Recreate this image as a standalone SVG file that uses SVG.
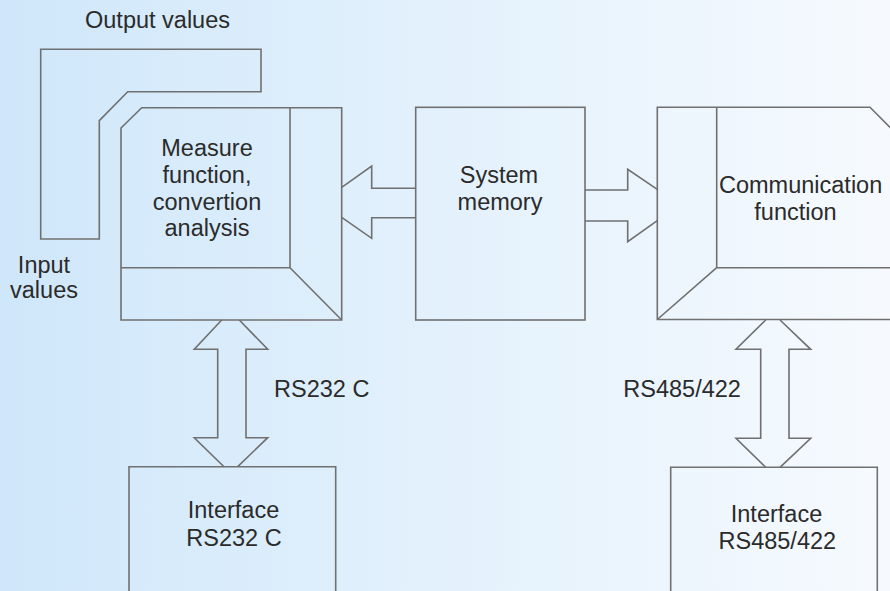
<svg xmlns="http://www.w3.org/2000/svg" width="890" height="591" viewBox="0 0 890 591">
<defs>
<linearGradient id="bg" x1="0" y1="0" x2="1" y2="0">
<stop offset="0" stop-color="#cfe7fa"/>
<stop offset="0.5" stop-color="#e3f1fc"/>
<stop offset="1" stop-color="#f6fafe"/>
</linearGradient>
<style>
.ln{fill:none;stroke:#707070;stroke-width:1.6;stroke-linejoin:miter}
.t{font-family:"Liberation Sans",Arial,sans-serif;font-size:23.5px;fill:#2b2b2b}
.m{text-anchor:middle}
</style>
</defs>
<rect x="0" y="0" width="890" height="591" fill="url(#bg)"/>

<g id="io">
<path class="ln" d="M40.7,49.3 H261 V91.7 H127.7 L99.3,120.7 V239 H40.7 Z"/>
<text class="t" x="85" y="28.3">Output values</text>
<text class="t m" x="44" y="272.7">Input</text>
<text class="t m" x="44" y="297.7">values</text>
</g>

<g id="measure">
<path class="ln" d="M121,128 L141.7,107.7 H341.7 V320 H121 Z"/>
<path class="ln" d="M290,107.7 V267.7 H121 M290,267.7 L341.7,320"/>
<text class="t m" x="207" y="156">Measure</text>
<text class="t m" x="207" y="183">function,</text>
<text class="t m" x="207" y="210">convertion</text>
<text class="t m" x="207" y="236">analysis</text>
</g>

<g id="memory">
<rect class="ln" x="415.7" y="107.3" width="169.3" height="212.7"/>
<text class="t m" x="499" y="183.3">System</text>
<text class="t m" x="500" y="210">memory</text>
</g>

<g id="communication">
<path class="ln" d="M657.3,107.3 H870 L892,129.3 V319.5 H657.3 Z"/>
<path class="ln" d="M716.7,107.3 V267.7 H892 M716.7,267.7 L657.3,319.5"/>
<text class="t" x="719" y="193">Communication</text>
<text class="t m" x="795.5" y="220">function</text>
</g>

<g id="if232">
<path class="ln" d="M129,600 V466.7 H335.7 V600"/>
<text class="t m" x="233.5" y="518.3">Interface</text>
<text class="t m" x="234" y="545.7">RS232 C</text>
</g>

<g id="if485">
<path class="ln" d="M670.7,600 V467.3 H877.3 V600"/>
<text class="t m" x="776.5" y="521.7">Interface</text>
<text class="t m" x="777.3" y="549.3">RS485/422</text>
</g>

<g id="connectors">
<path class="ln" d="M415.7,188.3 H371.7 V166 L341.7,187.3 M341.7,217.3 L371.7,238.3 V217.7 H415.7"/>
<path class="ln" d="M585,190 H627.7 V169.3 L657.3,189.3 M657.3,220.7 L627.7,241.7 V221 H585"/>
<path class="ln" d="M221.7,320 L194.3,349.3 H217.7 V437.7 H194.3 L224,466.7 M237.7,466.7 L267.7,437.7 H246 V349.3 H267.7 L239.3,320"/>
<path class="ln" d="M765.7,320 L736,349.3 H760.7 V438.3 H736 L765.7,467.3 M780,467.3 L810.7,438.3 H789 V349.3 H810.7 L780,320"/>
<text class="t" x="274" y="397.3">RS232 C</text>
<text class="t" x="623.3" y="397.3">RS485/422</text>
</g>
</svg>
